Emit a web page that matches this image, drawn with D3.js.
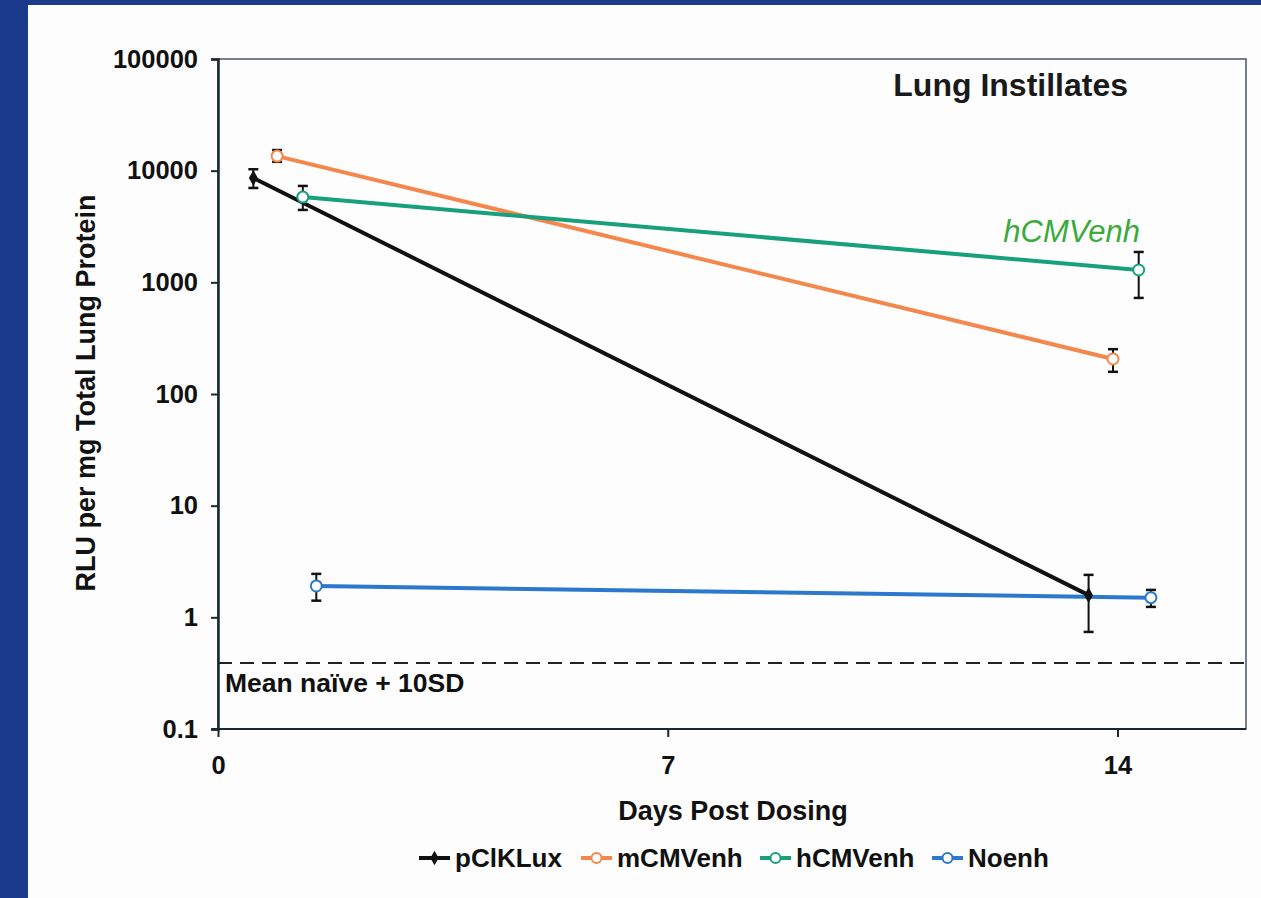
<!DOCTYPE html>
<html>
<head>
<meta charset="utf-8">
<script src="https://cdn.jsdelivr.net/npm/d3@7"></script>
<style>
  body { margin: 0; background: #1b3a8c; }
  svg { display: block; }
  text { font-family: "Liberation Sans", Arial, sans-serif; }
</style>
</head>
<body>
<svg id="chart" width="1261" height="898"></svg>
<script>
// series names and data, days (offset a bit for visibility) and RLU values
var seriesNames = ['pClKLux', 'mCMVenh', 'hCMVenh', 'Noenh'];
var seriesColors = ['#111111', '#f4874b', '#17a07b', '#2b78cc'];
var pClKLuxDays = [0.55, 13.55];
var pClKLuxVals = [8600, 1.58];
var pClKLuxHi = [10300, 2.4];
var pClKLuxLo = [7000, 0.74];
var mCMVenhDays = [0.92, 13.93];
var mCMVenhVals = [13500, 206];
var mCMVenhHi = [15300, 252];
var mCMVenhLo = [12000, 158];
var hCMVenhDays = [1.32, 14.33];
var hCMVenhVals = [5800, 1290];
var hCMVenhHi = [7300, 1870];
var hCMVenhLo = [4450, 725];
var NoenhDays = [1.53, 14.52];
var NoenhVals = [1.91, 1.50];
var NoenhHi = [2.45, 1.76];
var NoenhLo = [1.41, 1.24];
var baseline = 0.39;
var yTicks = [0.1, 1, 10, 100, 1000, 10000, 100000];
var xTicks = [0, 7, 14];

var svg = d3.select('#chart');
svg.append('rect')
  .attr('x', 28).attr('y', 5)
  .attr('width', 1261 - 28).attr('height', 898 - 5)
  .attr('fill', '#fdfdfe');

var mLeft = 218, mTop = 59, mRight = 1246, mBottom = 729;
var x = d3.scaleLinear().domain([0, 16]).range([mLeft, mRight]);
var y = d3.scaleLog().domain([0.1, 100000]).range([mBottom, mTop]);

var series = [
  { name: seriesNames[0], color: seriesColors[0], days: pClKLuxDays, vals: pClKLuxVals, hi: pClKLuxHi, lo: pClKLuxLo, filled: true },
  { name: seriesNames[1], color: seriesColors[1], days: mCMVenhDays, vals: mCMVenhVals, hi: mCMVenhHi, lo: mCMVenhLo },
  { name: seriesNames[2], color: seriesColors[2], days: hCMVenhDays, vals: hCMVenhVals, hi: hCMVenhHi, lo: hCMVenhLo },
  { name: seriesNames[3], color: seriesColors[3], days: NoenhDays, vals: NoenhVals, hi: NoenhHi, lo: NoenhLo }
];

// plot frame
svg.append('rect')
  .attr('x', mLeft).attr('y', mTop)
  .attr('width', mRight - mLeft).attr('height', mBottom - mTop)
  .attr('fill', 'none').attr('stroke', '#4a5560').attr('stroke-width', 1.5);

// axes
var yAxis = d3.axisLeft(y).tickValues(yTicks).tickFormat(d3.format('')).tickSize(7).tickPadding(13);
var gy = svg.append('g').attr('transform', 'translate(' + mLeft + ',0)').call(yAxis);
gy.select('.domain').attr('stroke', '#1a2630').attr('stroke-width', 2.5);
gy.selectAll('.tick line').attr('stroke', '#1a2630').attr('stroke-width', 2);
gy.selectAll('.tick text')
  .attr('font-size', 25.5).attr('font-weight', 'bold').attr('fill', '#111');

var xAxis = d3.axisBottom(x).tickValues(xTicks).tickSize(8).tickPadding(19);
var gx = svg.append('g').attr('transform', 'translate(0,' + mBottom + ')').call(xAxis);
gx.select('.domain').remove();
gx.selectAll('.tick line').attr('stroke', '#1a2630').attr('stroke-width', 2);
gx.selectAll('.tick text')
  .attr('font-size', 25.5).attr('font-weight', 'bold').attr('fill', '#111');
svg.append('line')
  .attr('x1', mLeft - 6).attr('x2', mRight)
  .attr('y1', mBottom).attr('y2', mBottom)
  .attr('stroke', '#1a2630').attr('stroke-width', 2);

// baseline dashed
svg.append('line')
  .attr('x1', mLeft).attr('x2', mRight)
  .attr('y1', y(baseline)).attr('y2', y(baseline))
  .attr('stroke', '#222').attr('stroke-width', 2)
  .attr('stroke-dasharray', '14,8');
svg.append('text')
  .attr('x', mLeft + 7).attr('y', y(baseline) + 29)
  .attr('font-size', 26.5).attr('font-weight', 'bold').attr('fill', '#111')
  .text('Mean naïve + 10SD');

// lines
var line = d3.line().x(d => x(d[0])).y(d => y(d[1]));
series.forEach(s => {
  var pts = s.days.map((d, i) => [d, s.vals[i]]);
  svg.append('path')
    .attr('d', line(pts))
    .attr('fill', 'none')
    .attr('stroke', s.color)
    .attr('stroke-width', 4);
});

// error bars and markers
series.forEach(s => {
  var g = svg.append('g');
  s.days.forEach((d, i) => {
    var cx = x(d);
    g.append('line')
      .attr('x1', cx).attr('x2', cx)
      .attr('y1', y(s.hi[i])).attr('y2', y(s.lo[i]))
      .attr('stroke', '#111').attr('stroke-width', 2);
    [s.hi[i], s.lo[i]].forEach(v => {
      g.append('line')
        .attr('x1', cx - 5).attr('x2', cx + 5)
        .attr('y1', y(v)).attr('y2', y(v))
        .attr('stroke', '#111').attr('stroke-width', 2.5);
    });
    if (s.filled) {
      g.append('path')
        .attr('d', d3.symbol(d3.symbolDiamond, 70)())
        .attr('transform', 'translate(' + cx + ',' + y(s.vals[i]) + ')')
        .attr('fill', '#111');
    } else {
      g.append('circle')
        .attr('cx', cx).attr('cy', y(s.vals[i])).attr('r', 5.5)
        .attr('fill', '#fff').attr('stroke', s.color).attr('stroke-width', 2);
    }
  });
});

// annotations
svg.append('text')
  .attr('x', 1128).attr('y', 96).attr('text-anchor', 'end')
  .attr('font-size', 32).attr('font-weight', 'bold').attr('fill', '#1a1a1a')
  .text('Lung Instillates');
svg.append('text')
  .attr('x', 1140).attr('y', 242).attr('text-anchor', 'end')
  .attr('font-size', 31).attr('font-style', 'italic').attr('fill', '#3aaa3a')
  .text('hCMVenh');

// axis titles
svg.append('text')
  .attr('transform', 'translate(95,' + 393 + ') rotate(-90)')
  .attr('text-anchor', 'middle')
  .attr('font-size', 27).attr('font-weight', 'bold').attr('fill', '#111')
  .text('RLU per mg Total Lung Protein');
svg.append('text')
  .attr('x', 733).attr('y', 820).attr('text-anchor', 'middle')
  .attr('font-size', 27).attr('font-weight', 'bold').attr('fill', '#111')
  .text('Days Post Dosing');

// legend
var legendX = [419, 581, 760, 932];
series.forEach((s, i) => {
  var g = svg.append('g').attr('transform', 'translate(' + legendX[i] + ',858)');
  g.append('line').attr('x1', 0).attr('x2', 31).attr('y1', 0).attr('y2', 0)
    .attr('stroke', s.color).attr('stroke-width', 4);
  if (s.filled) {
    g.append('path').attr('d', d3.symbol(d3.symbolDiamond, 60)())
      .attr('transform', 'translate(15.5,0)').attr('fill', '#111');
  } else {
    g.append('circle').attr('cx', 15.5).attr('cy', 0).attr('r', 5)
      .attr('fill', '#fff').attr('stroke', s.color).attr('stroke-width', 2);
  }
  g.append('text').attr('x', 36).attr('y', 9)
    .attr('font-size', 26).attr('font-weight', 'bold').attr('fill', '#111')
    .text(s.name);
});
</script>
</body>
</html>
